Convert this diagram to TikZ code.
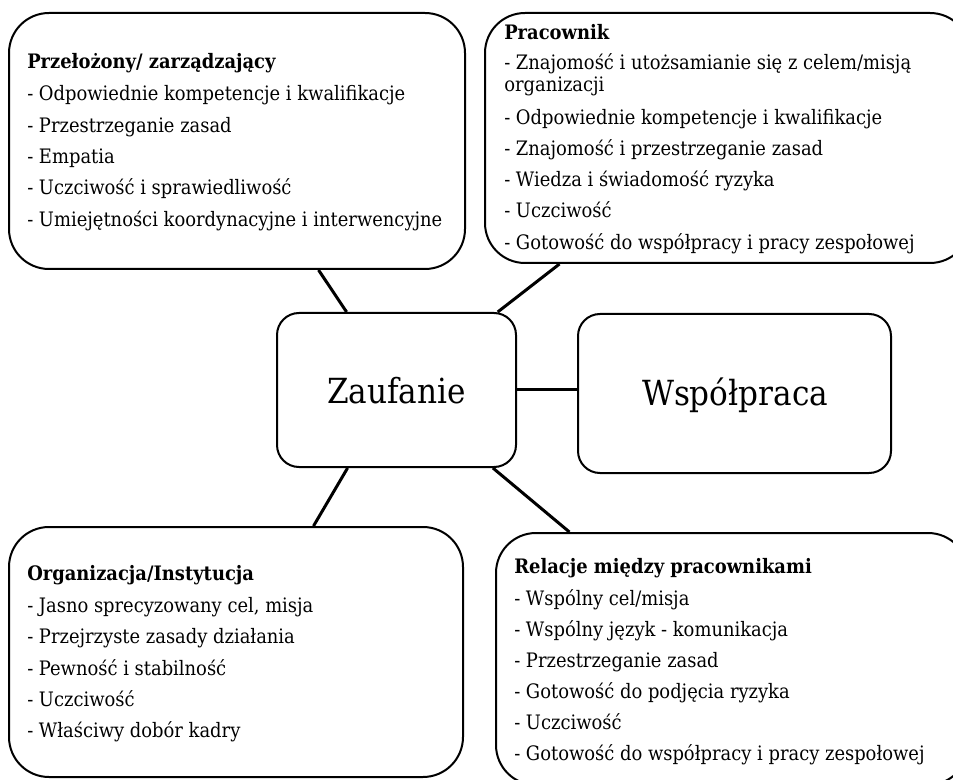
\documentclass[tikz,border=0pt]{standalone}
\usepackage{fontspec}
\setmainfont{DejaVu Serif Condensed}
\usetikzlibrary{calc,backgrounds}
\newlength\mylen
\AtBeginDocument{%
\settowidth\mylen{\fontsize{10pt}{12pt}\selectfont - Umiejętności koordynacyjne i interwencyjne}%
\pgfmathsetmacro\fs{10*311.25/\mylen}%
\global\let\fs\fs
\settowidth\mylen{\fontsize{10pt}{12pt}\selectfont Współpraca}%
\pgfmathsetmacro\fb{10*139.5/\mylen}%
\global\let\fb\fb
}
\begin{document}
\begin{tikzpicture}[x=0.75pt,y=-0.75pt]
\tikzset{
  box/.style={draw, line width=1.5pt, fill=white, inner sep=0pt, rounded corners=30pt},
  cbox/.style={box, rounded corners=16.5pt},
  ln/.style={anchor=base west, inner sep=0pt, font=\fontsize{\fs pt}{\fs pt}\selectfont},
  ttl/.style={anchor=base west, inner sep=0pt, font=\fontsize{\fs pt}{\fs pt}\selectfont\bfseries},
  big/.style={anchor=base, inner sep=0pt, font=\fontsize{\fb pt}{\fb pt}\selectfont},
  conn/.style={line width=2.25pt}
}
\useasboundingbox (0,0) rectangle (953,780);
\clip (0,0) rectangle (953,780);
% boxes
\node[box, minimum width=342pt, minimum height=192pt] (tl) at (237,141) {};
\node[box, minimum width=363.75pt, minimum height=187.5pt] (tr) at (727.5,138) {};
\node[cbox, minimum width=179.25pt, minimum height=115.5pt] (zau) at (396.5,390) {};
\node[cbox, minimum width=234.75pt, minimum height=119.25pt] (wsp) at (734.5,393.5) {};
\node[box, minimum width=340.5pt, minimum height=187.5pt] (bl) at (236,652) {};
\node[box, minimum width=354pt, minimum height=189pt] (br) at (732,659) {};
% connectors
\begin{pgfonlayer}{background}
\draw[conn] ($(tl.south west)!0.678!(tl.south east)$) -- ($(zau.north west)!0.293!(zau.north east)$);
\draw[conn] ($(tr.south west)!0.155!(tr.south east)$) -- ($(zau.north west)!0.92!(zau.north east)$);
\draw[conn] (zau.east) -- (zau.east -| wsp.west);
\draw[conn] ($(zau.south west)!0.297!(zau.south east)$) -- ($(bl.north west)!0.67!(bl.north east)$);
\draw[conn] ($(zau.south west)!0.9!(zau.south east)$) -- ($(br.north west)!0.157!(br.north east)$);
\end{pgfonlayer}
% big labels
\node[big] (zt) at (396.5,403) {Zaufanie};
\node[big] (wt) at (735,406) {Współpraca};
% top left
\node[ttl] (tl0) at (27,69) {Przełożony/ zarządzający};
\node[ln] (tl1) at (27,101) {- Odpowiednie kompetencje i kwalifikacje};
\node[ln] (tl2) at (27,133) {- Przestrzeganie zasad};
\node[ln] (tl3) at (27,164) {- Empatia};
\node[ln] (tl4) at (27,195) {- Uczciwość i sprawiedliwość};
\node[ln] (tl5) at (27,227) {- Umiejętności koordynacyjne i interwencyjne};
% top right
\node[ttl] (tr0) at (504,40) {Pracownik};
\node[ln] (tr1) at (504,70) {- Znajomość i utożsamianie się z celem/misją};
\node[ln] (tr1b) at (504,92) {organizacji};
\node[ln] (tr2) at (504,125) {- Odpowiednie kompetencje i kwalifikacje};
\node[ln] (tr3) at (504,156) {- Znajomość i przestrzeganie zasad};
\node[ln] (tr4) at (504,187) {- Wiedza i świadomość ryzyka};
\node[ln] (tr5) at (504,218) {- Uczciwość};
\node[ln] (tr6) at (504,250) {- Gotowość do współpracy i pracy zespołowej};
% bottom left
\node[ttl] (bl0) at (27,580) {Organizacja/Instytucja};
\node[ln] (bl1) at (27,612) {- Jasno sprecyzowany cel, misja};
\node[ln] (bl2) at (27,643) {- Przejrzyste zasady działania};
\node[ln] (bl3) at (27,675) {- Pewność i stabilność};
\node[ln] (bl4) at (27,706) {- Uczciwość};
\node[ln] (bl5) at (27,737) {- Właściwy dobór kadry};
% bottom right
\node[ttl] (br0) at (514,573) {Relacje między pracownikami};
\node[ln] (br1) at (514,605) {- Wspólny cel/misja};
\node[ln] (br2) at (514,636) {- Wspólny język - komunikacja};
\node[ln] (br3) at (514,667) {- Przestrzeganie zasad};
\node[ln] (br4) at (514,698) {- Gotowość do podjęcia ryzyka};
\node[ln] (br5) at (514,729) {- Uczciwość};
\node[ln] (br6) at (514,760) {- Gotowość do współpracy i pracy zespołowej};
\end{tikzpicture}
\end{document}
